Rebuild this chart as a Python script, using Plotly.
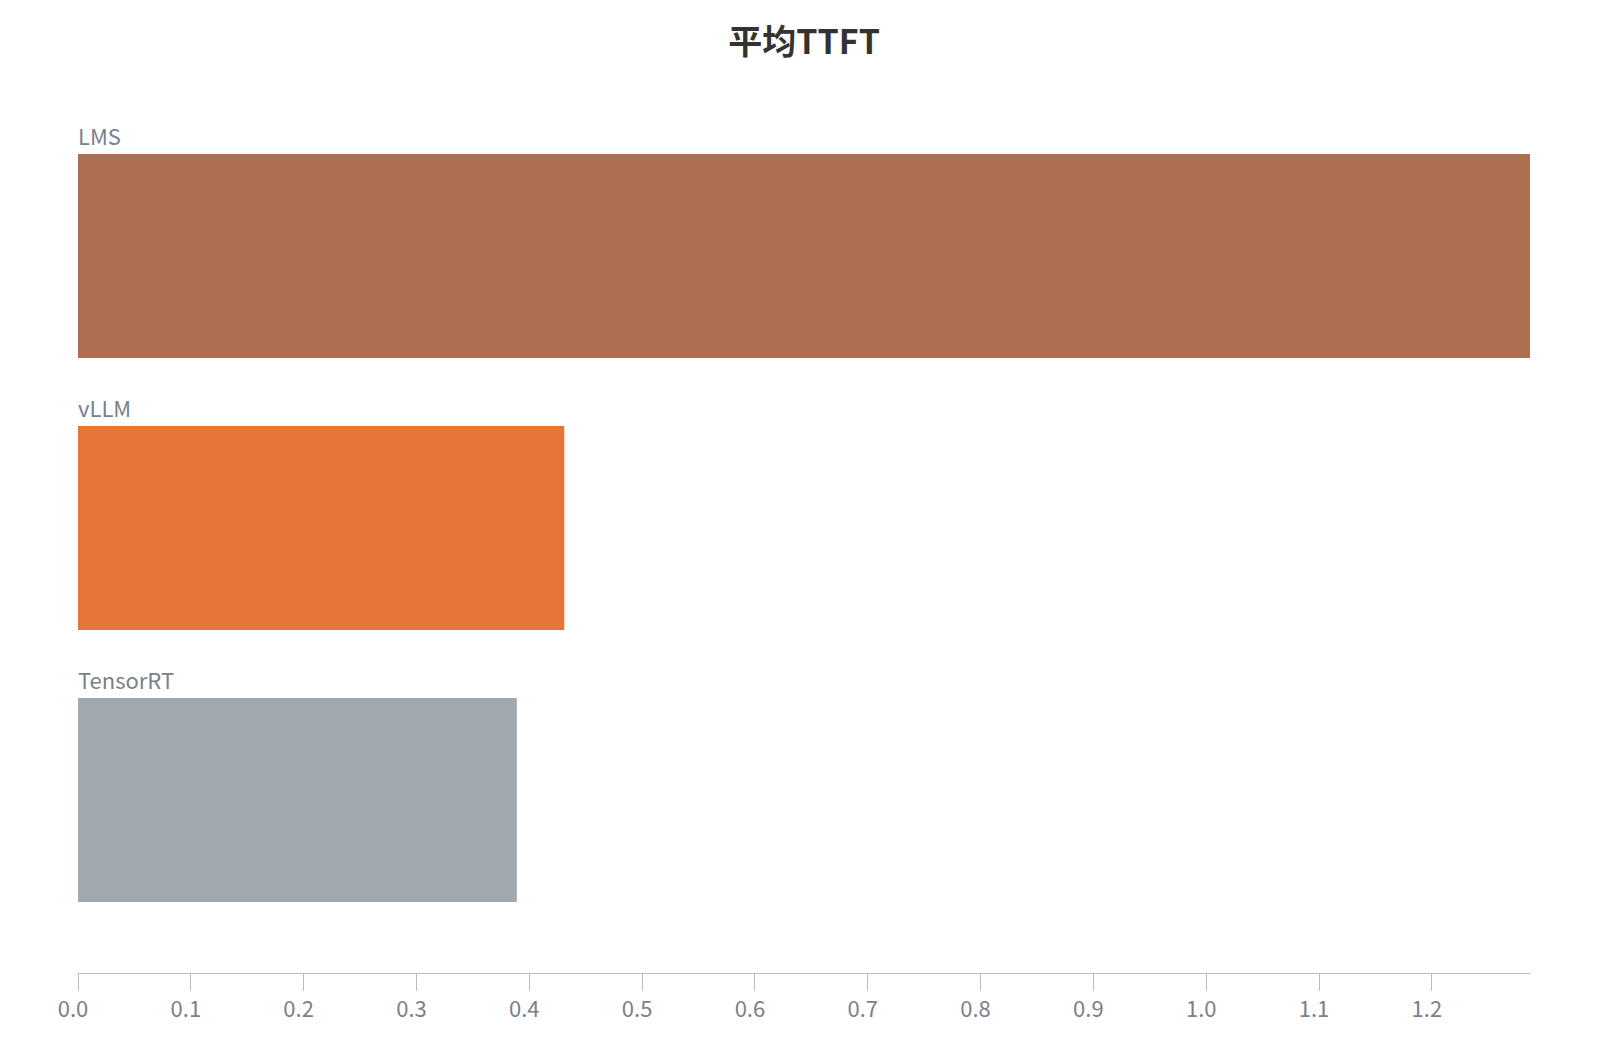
import plotly.graph_objects as go

# Average TTFT per inference engine
engines = ["LMS", "vLLM", "TensorRT"]
ttft = [1.287, 0.431, 0.389]
bar_colors = ["#ae6f50", "#e57538", "#a1a9b0"]
tick_values = [round(i * 0.1, 1) for i in range(13)]

FONT = "Noto Sans CJK SC"
LABEL_GRAY = "#7a808c"
AXIS_GRAY = "#bcbcbc"


def create_bar_chart():
    fig = go.Figure()
    fig.add_trace(
        go.Bar(
            x=ttft,
            y=engines,
            orientation="h",
            marker=dict(color=bar_colors, line=dict(width=0)),
            width=0.75,
            hoverinfo="x+y",
        )
    )

    # engine name sits just above each bar, aligned to the left edge
    for i, name in enumerate(engines):
        fig.add_annotation(
            x=0, xref="x",
            y=i - 0.375, yref="y",
            text=name,
            showarrow=False,
            xanchor="left", yanchor="bottom",
            xshift=-2,
            yshift=1,
            font=dict(family=FONT, size=22, color=LABEL_GRAY),
        )

    fig.update_layout(
        title=dict(
            text="<b>平均TTFT</b>",
            x=0.497, xanchor="center",
            y=1 - 34 / 1054, yref="container", yanchor="middle",
            font=dict(family=FONT, size=34, color="#333333"),
        ),
        width=1602,
        height=1054,
        margin=dict(l=70, r=80, t=112, b=89),
        plot_bgcolor="white",
        paper_bgcolor="white",
        showlegend=False,
        bargap=0.25,
        font=dict(family=FONT, color=LABEL_GRAY),
    )
    fig.update_xaxes(
        range=[0, max(ttft)],
        tickvals=tick_values,
        tickformat=".1f",
        showgrid=False,
        zeroline=False,
        showline=True,
        linecolor=AXIS_GRAY,
        linewidth=1,
        ticks="outside",
        ticklen=17,
        tickcolor=AXIS_GRAY,
        ticklabelshift=-5,
        tickfont=dict(family=FONT, size=22, color=LABEL_GRAY),
    )
    fig.update_yaxes(
        range=[2.636, -0.5],
        showticklabels=False,
        showgrid=False,
        zeroline=False,
        showline=False,
        ticks="",
    )

    fig.write_html("out.html")


if __name__ == "__main__":
    create_bar_chart()
